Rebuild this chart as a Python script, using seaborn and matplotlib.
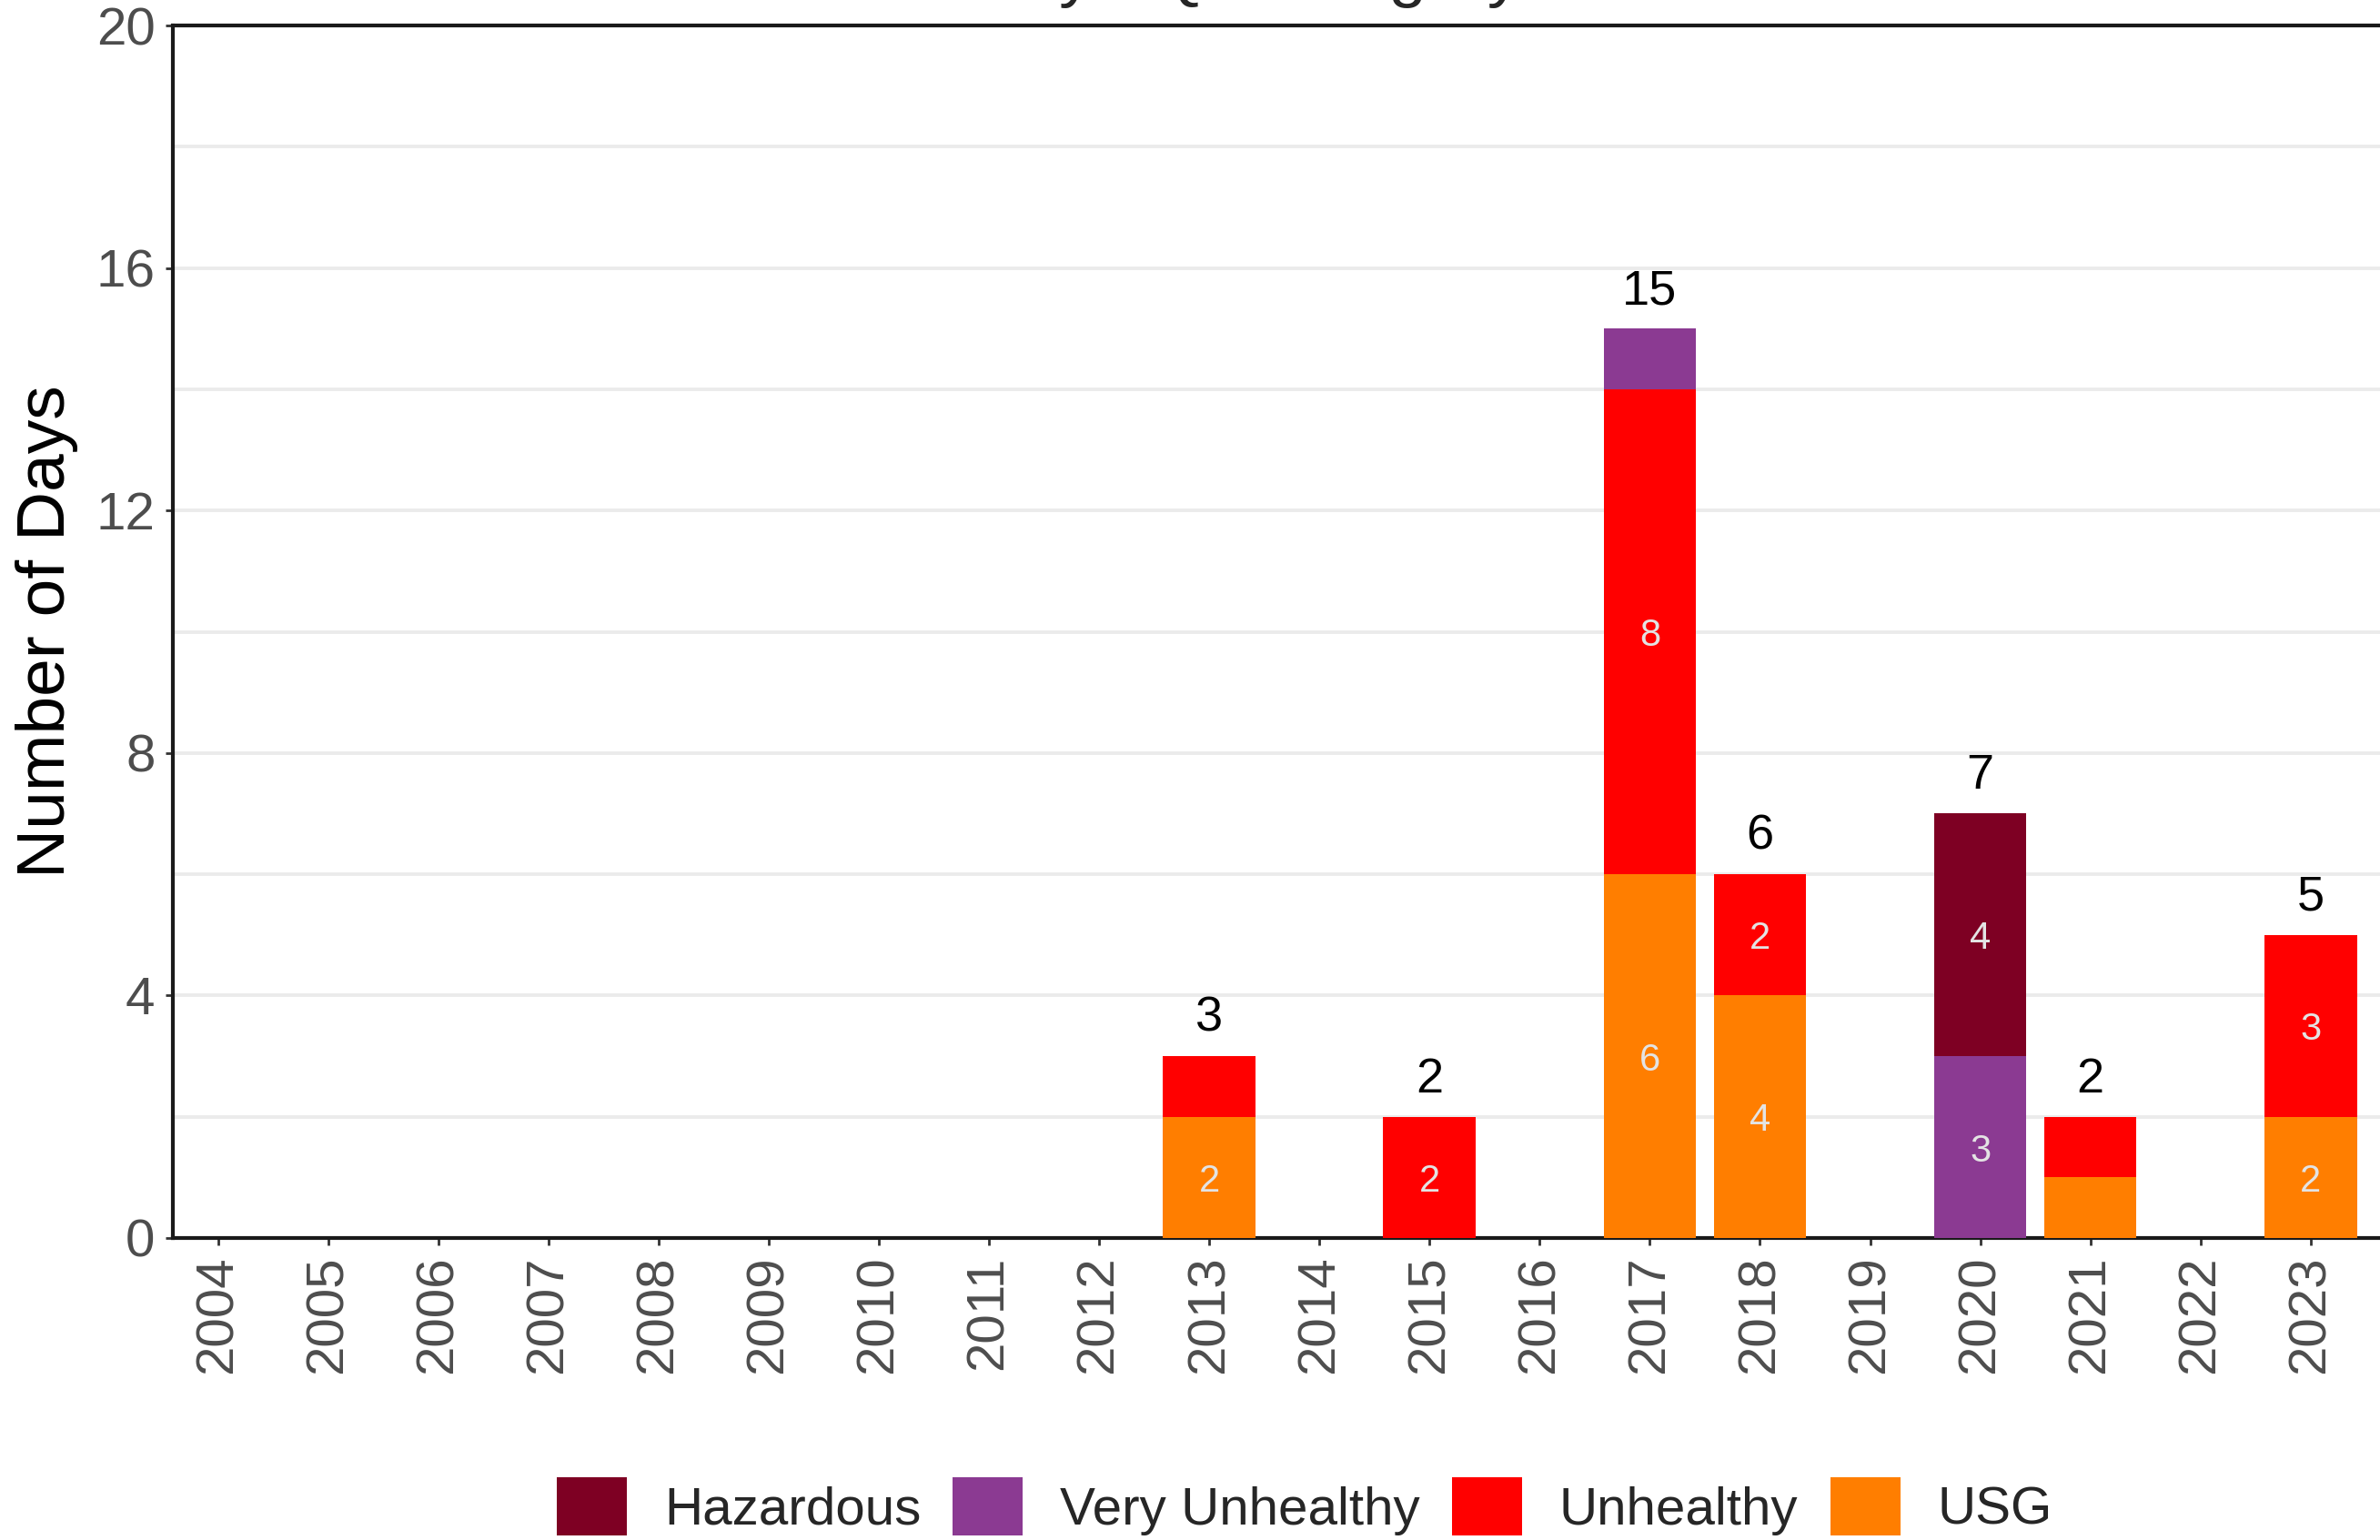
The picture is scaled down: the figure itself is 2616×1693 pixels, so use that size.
import numpy as np
import pandas as pd
import matplotlib
matplotlib.use("Agg")
import matplotlib.pyplot as plt
import seaborn as sns
from matplotlib.patches import Patch
from matplotlib.ticker import MultipleLocator

# Datos
years = [str(y) for y in range(2004, 2024)]
usg            = [0, 0, 0, 0, 0, 0, 0, 0, 0, 2, 0, 0, 0, 6, 4, 0, 0, 1, 0, 2]
unhealthy      = [0, 0, 0, 0, 0, 0, 0, 0, 0, 1, 0, 2, 0, 8, 2, 0, 0, 1, 0, 3]
very_unhealthy = [0, 0, 0, 0, 0, 0, 0, 0, 0, 0, 0, 0, 0, 1, 0, 0, 3, 0, 0, 0]
hazardous      = [0, 0, 0, 0, 0, 0, 0, 0, 0, 0, 0, 0, 0, 0, 0, 0, 4, 0, 0, 0]

# orden de abajo hacia arriba
categories = ["USG", "Unhealthy", "Very Unhealthy", "Hazardous"]
colores = {"Hazardous": "#7E0023", "Very Unhealthy": "#8B3A92",
           "Unhealthy": "#FF0000", "USG": "#FF7E00"}

series = {"USG": usg, "Unhealthy": unhealthy,
          "Very Unhealthy": very_unhealthy, "Hazardous": hazardous}
filas = []
for cat in categories:
    for i, v in enumerate(series[cat]):
        if v > 0:
            filas.append({"pos": i, "year": years[i], "category": cat, "days": v})
df = pd.DataFrame(filas)

sns.set_style("white")
plt.rcParams["font.family"] = ["Liberation Sans", "DejaVu Sans"]

fig = plt.figure(figsize=(13.08, 8.465), dpi=200)
ax = fig.add_axes([190 / 2616, 1 - 1361 / 1693, 1 - 190 / 2616, (1361 - 28) / 1693])

# seaborn apila el último nivel de hue abajo, por eso se invierte el orden
sns.histplot(data=df, x="pos", weights="days", hue="category",
             hue_order=categories[::-1], palette=colores, multiple="stack",
             discrete=True, shrink=0.84, linewidth=0, alpha=1, legend=False,
             ax=ax, zorder=3)

ax.set_xlim(-0.41, 19.63)
ax.set_ylim(0, 20)
ax.set_xticks(range(len(years)))
ax.set_xticklabels(years, rotation=90)
ax.yaxis.set_major_locator(MultipleLocator(4))
ax.yaxis.set_minor_locator(MultipleLocator(2))
ax.grid(which="both", axis="y", color="#EBEBEB", lw=1.4, zorder=0)
ax.set_axisbelow(True)

ax.tick_params(axis="both", which="major", length=3, width=1, color="#333333",
               labelcolor="#4D4D4D", labelsize=21, pad=4, left=True, bottom=True)
ax.tick_params(axis="y", which="minor", length=0)
for lado in ["left", "bottom", "top"]:
    ax.spines[lado].set_color("#1A1A1A")
    ax.spines[lado].set_linewidth(1.5)
ax.spines["right"].set_visible(False)

ax.set_xlabel("")
ax.set_ylabel("Number of Days", fontsize=27, color="black", labelpad=7)

# Etiquetas dentro de los segmentos (solo si > 1) y totales arriba
base = np.zeros(len(years))
for cat in categories:
    vals = np.array(series[cat])
    for i, v in enumerate(vals):
        if v > 1:
            ax.text(i, base[i] + v / 2, str(v), ha="center", va="center_baseline",
                    fontsize=15, color="#E3E3E3", zorder=4)
    base = base + vals
for i, tot in enumerate(base):
    if tot > 0:
        ax.text(i, tot + 0.7, str(int(tot)), ha="center", va="center_baseline",
                fontsize=19.5, color="black", zorder=4)

fig.text(1160 / 2616, 1 + 6 / 1693, "Annual Count by AQI Category",
         ha="center", va="baseline", fontsize=27)

orden = ["Hazardous", "Very Unhealthy", "Unhealthy", "USG"]
handles = [Patch(facecolor=colores[c], edgecolor="none", label=c) for c in orden]
fig.legend(handles=handles, loc="center", ncol=4, frameon=False, fontsize=21,
           bbox_to_anchor=(1434 / 2616, 1 - 1656 / 1693),
           handlelength=1.32, handleheight=1.32, handletextpad=0.7,
           columnspacing=0.6)

fig.savefig("out.png", dpi=200)
